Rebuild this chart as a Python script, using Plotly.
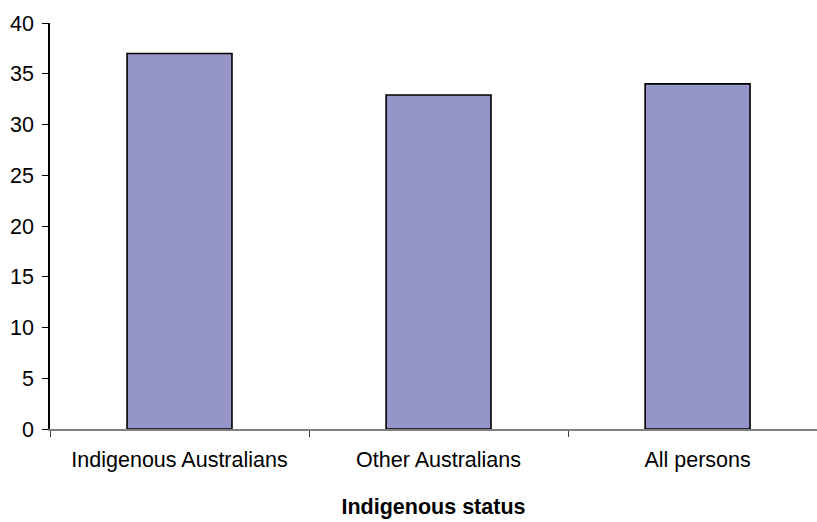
import plotly.graph_objects as go

categories = ["Indigenous Australians", "Other Australians", "All persons"]
values = [37.0, 32.9, 34.0]
y_ticks = [0, 5, 10, 15, 20, 25, 30, 35, 40]

FONT = "Liberation Sans, Arial, sans-serif"

fig = go.Figure(
    go.Bar(
        x=categories,
        y=values,
        width=0.405,
        marker=dict(color="#9595C9", line=dict(color="#000000", width=1.6)),
        hoverinfo="x+y",
    )
)

fig.update_layout(
    width=817,
    height=522,
    margin=dict(l=50, r=0, t=23, b=93),
    paper_bgcolor="white",
    plot_bgcolor="white",
    showlegend=False,
    font=dict(family=FONT, size=21.5, color="#000000"),
)

fig.update_xaxes(
    type="category",
    range=[-0.5, 2.461],
    showline=True,
    linecolor="#808080",
    linewidth=2,
    ticks="outside",
    tickson="boundaries",
    ticklen=6,
    tickcolor="#404040",
    tickwidth=1,
    showgrid=False,
    zeroline=False,
    tickfont=dict(family=FONT, size=21.5),
    ticklabelstandoff=10,
    title=dict(
        text="<b>Indigenous status</b>",
        font=dict(family=FONT, size=21.5),
        standoff=28,
    ),
)

fig.update_yaxes(
    range=[0, 40],
    tickvals=y_ticks,
    showline=True,
    linecolor="#000000",
    linewidth=1.5,
    ticks="outside",
    ticklen=6,
    tickcolor="#000000",
    tickwidth=1,
    showgrid=False,
    zeroline=False,
    tickfont=dict(family=FONT, size=21.5),
    ticklabelstandoff=4,
)

fig.write_html("out.html")
